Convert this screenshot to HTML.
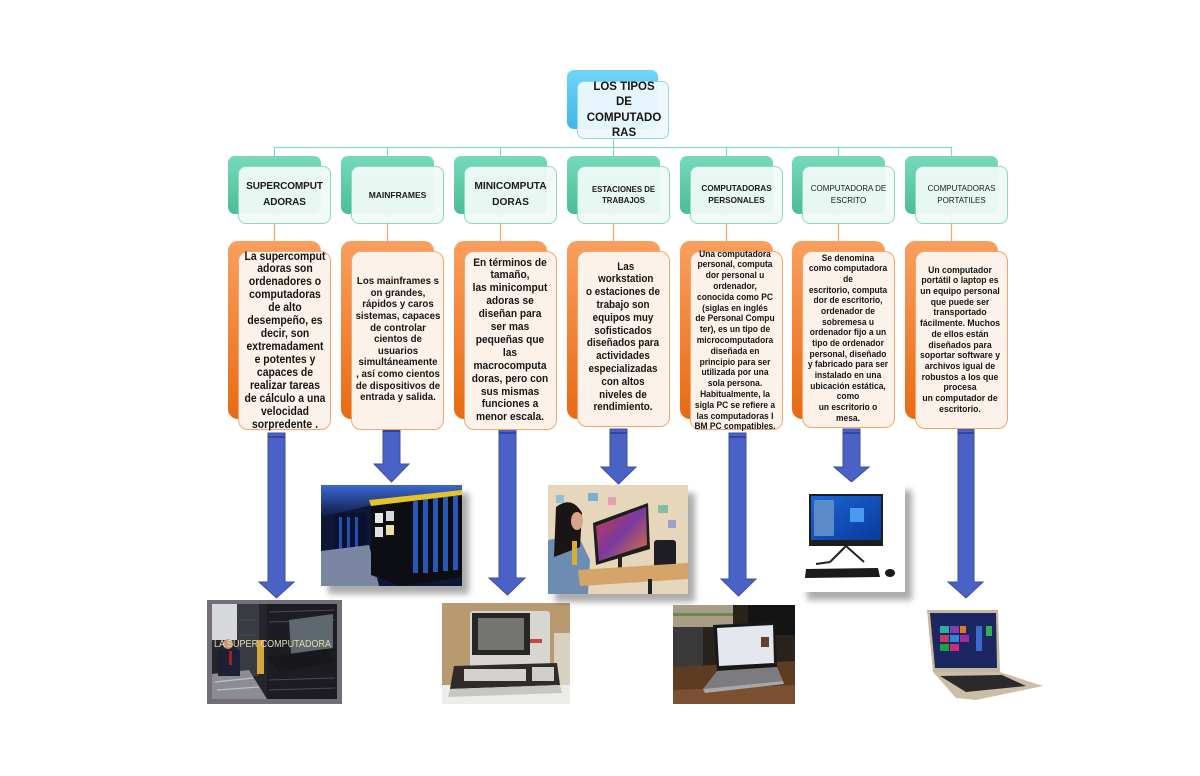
<!DOCTYPE html>
<html><head><meta charset="utf-8">
<style>
body{margin:0;background:#fff;}
#c{position:relative;width:1200px;height:776px;overflow:hidden;background:#fff;font-family:"Liberation Sans",sans-serif;}
.hb{position:absolute;top:156px;width:93px;height:58px;border-radius:7px;background:linear-gradient(#76d9bb,#4bbd98);}
.hf{position:absolute;top:166px;width:91px;height:56px;border:1px solid #8adbc4;border-radius:8px;background:rgba(240,250,247,0.94);display:flex;align-items:center;justify-content:center;text-align:center;color:#1a1a1a;white-space:nowrap;}
.ob{position:absolute;top:241px;width:93px;height:178px;border-radius:10px;background:linear-gradient(#fa9f5f,#e96a12);}
.of{position:absolute;top:251px;width:91px;height:177px;border:1px solid #f5a56c;border-radius:10px;background:#fdf2ea;}
.t{position:absolute;width:120px;text-align:center;font-weight:bold;color:#151515;white-space:nowrap;transform-origin:50% 0;}
.im{position:absolute;overflow:visible;}
.sh{box-shadow:7px 8px 6px rgba(0,0,0,0.33);}
</style></head><body><div id="c">

<!-- connectors -->
<svg class="im" style="left:0;top:0" width="1200" height="776">
<g stroke="#86d9c3" stroke-width="1.2" fill="none">
<line x1="274" y1="147.5" x2="952" y2="147.5"/>
<line x1="274.5" y1="147" x2="274.5" y2="157"/>
<line x1="387.5" y1="147" x2="387.5" y2="157"/>
<line x1="500.5" y1="147" x2="500.5" y2="157"/>
<line x1="613.5" y1="138" x2="613.5" y2="157"/>
<line x1="726.5" y1="147" x2="726.5" y2="157"/>
<line x1="838.5" y1="147" x2="838.5" y2="157"/>
<line x1="951.5" y1="147" x2="951.5" y2="157"/>
</g>
<g stroke="#f5a46b" stroke-width="1.2">
<line x1="274.5" y1="214" x2="274.5" y2="242"/>
<line x1="387.5" y1="214" x2="387.5" y2="242"/>
<line x1="500.5" y1="214" x2="500.5" y2="242"/>
<line x1="613.5" y1="214" x2="613.5" y2="242"/>
<line x1="726.5" y1="214" x2="726.5" y2="242"/>
<line x1="838.5" y1="214" x2="838.5" y2="242"/>
<line x1="951.5" y1="214" x2="951.5" y2="242"/>
</g>
<!-- arrows -->
<g fill="#4a62c6" stroke="#3b4fa6" stroke-width="1">
<polygon points="268,433 285,433 285,582 294,582 276.5,598 259,582 268,582"/>
<polygon points="383,427 400,427 400,464 409,464 391.5,482 374,464 383,464"/>
<polygon points="499,429 516,429 516,578 525,578 507.5,595 489,578 499,578"/>
<polygon points="610,429 627,429 627,467 636,467 618.5,484 601,467 610,467"/>
<polygon points="729,433 746,433 746,579 756,579 738.5,596 721,579 729,579"/>
<polygon points="843,429 860,429 860,467 869,467 851.5,482 834,467 843,467"/>
<polygon points="958,429 974,429 974,582 983,582 966,598 948,582 958,582"/>
</g>
<g fill="#33449a">
<rect x="268" y="436" width="17" height="2"/>
<rect x="383" y="430" width="17" height="2"/>
<rect x="499" y="432" width="17" height="2"/>
<rect x="610" y="432" width="17" height="2"/>
<rect x="729" y="436" width="17" height="2"/>
<rect x="843" y="432" width="17" height="2"/>
<rect x="958" y="432" width="16" height="2"/>
</g>
</svg>

<!-- title -->
<div style="position:absolute;left:567px;top:70px;width:91px;height:59px;border-radius:7px;background:linear-gradient(#70d5f8,#3fb6e8);"></div>
<div style="position:absolute;left:577px;top:81px;width:90px;height:56px;border:1px solid #8fd7f2;border-radius:7px;background:rgba(238,248,253,0.95);"></div>
<div class="t" style="left:564px;top:80px;font-size:11.5px;line-height:15.3px;">LOS TIPOS<br>DE<br>COMPUTADO<br>RAS</div>

<!-- header boxes -->
<div class="hb" style="left:228px"></div><div class="hf" style="left:238px"><span style="font-weight:bold;font-size:10px;line-height:16px;letter-spacing:-0.1px">SUPERCOMPUT<br>ADORAS</span></div>
<div class="hb" style="left:341px"></div><div class="hf" style="left:351px"><span style="font-weight:bold;font-size:8.5px;">MAINFRAMES</span></div>
<div class="hb" style="left:454px"></div><div class="hf" style="left:464px"><span style="font-weight:bold;font-size:10.2px;line-height:16px;">MINICOMPUTA<br>DORAS</span></div>
<div class="hb" style="left:567px"></div><div class="hf" style="left:577px"><span style="font-weight:bold;font-size:7.8px;line-height:11.5px;">ESTACIONES DE<br>TRABAJOS</span></div>
<div class="hb" style="left:680px"></div><div class="hf" style="left:690px"><span style="font-weight:bold;font-size:8.2px;line-height:12.5px;">COMPUTADORAS<br>PERSONALES</span></div>
<div class="hb" style="left:792px"></div><div class="hf" style="left:802px"><span style="font-size:8px;line-height:12.5px;">COMPUTADORA DE<br>ESCRITO</span></div>
<div class="hb" style="left:905px"></div><div class="hf" style="left:915px"><span style="font-size:8px;line-height:12.5px;">COMPUTADORAS<br>PORTATILES</span></div>

<!-- body boxes -->
<div class="ob" style="left:228px"></div><div class="of" style="left:238px"></div>
<div class="ob" style="left:341px"></div><div class="of" style="left:351px"></div>
<div class="ob" style="left:454px"></div><div class="of" style="left:464px"></div>
<div class="ob" style="left:567px"></div><div class="of" style="left:577px;height:174px"></div>
<div class="ob" style="left:680px"></div><div class="of" style="left:690px"></div>
<div class="ob" style="left:792px"></div><div class="of" style="left:802px;height:175px"></div>
<div class="ob" style="left:905px"></div><div class="of" style="left:915px;height:176px"></div>

<div class="t" style="left:225px;top:250.5px;font-size:11.5px;line-height:12.95px;transform:scaleX(0.905);">La supercomput<br>adoras son<br>ordenadores o<br>computadoras<br>de alto<br>desempeño, es<br>decir, son<br>extremadament<br>e potentes y<br>capaces de<br>realizar tareas<br>de cálculo a una<br>velocidad<br>sorpredente .</div>
<div class="t" style="left:338px;top:276.2px;font-size:10.5px;line-height:11.6px;transform:scaleX(0.92);">Los mainframes s<br>on grandes,<br>rápidos y caros<br>sistemas, capaces<br>de controlar<br>cientos de<br>usuarios<br>simultáneamente<br>, así como cientos<br>de dispositivos de<br>entrada y salida.</div>
<div class="t" style="left:450px;top:256.5px;font-size:11.2px;line-height:12.9px;transform:scaleX(0.91);">En términos de<br>tamaño,<br>las minicomput<br>adoras se<br>diseñan para<br>ser mas<br>pequeñas que<br>las<br>macrocomputa<br>doras, pero con<br>sus mismas<br>funciones a<br>menor escala.</div>
<div class="t" style="left:563px;top:260.6px;font-size:11.2px;line-height:12.8px;transform:scaleX(0.88);">&nbsp;&nbsp;Las<br>&nbsp;&nbsp;workstation<br>o estaciones de<br>trabajo son<br>equipos muy<br>sofisticados<br>diseñados para<br>actividades<br>especializadas<br>con altos<br>niveles de<br>rendimiento.</div>
<div class="t" style="left:675px;top:248.6px;font-size:9.4px;line-height:10.8px;transform:scaleX(0.9);">Una computadora<br>personal, computa<br>dor personal u<br>ordenador,<br>conocida como PC<br>(siglas en inglés<br>de Personal Compu<br>ter), es un tipo de<br>microcomputadora<br>diseñada en<br>principio para ser<br>utilizada por una<br>sola persona.<br>Habitualmente, la<br>sigla PC se refiere a<br>las computadoras I<br>BM PC compatibles.</div>
<div class="t" style="left:788px;top:252.7px;font-size:9.4px;line-height:10.67px;transform:scaleX(0.9);">Se denomina<br>como computadora<br>de<br>escritorio, computa<br>dor de escritorio,<br>ordenador de<br>sobremesa u<br>ordenador fijo a un<br>tipo de ordenador<br>personal, diseñado<br>y fabricado para ser<br>instalado en una<br>ubicación estática,<br>como<br>un escritorio o<br>mesa.</div>
<div class="t" style="left:900px;top:264.6px;font-size:9.4px;line-height:10.7px;transform:scaleX(0.92);">Un computador<br>portátil o laptop es<br>un equipo personal<br>que puede ser<br>transportado<br>fácilmente. Muchos<br>de ellos están<br>diseñados para<br>soportar software y<br>archivos igual de<br>robustos a los que<br>procesa<br>un computador de<br>escritorio.</div>

<!-- image 1 supercomputer -->
<svg class="im" style="left:207px;top:600px" width="135" height="104">
<rect width="135" height="104" fill="#736e78"/>
<rect x="5" y="4" width="125" height="95" fill="#25252b"/>
<rect x="5" y="4" width="25" height="36" fill="#d6d8dc"/>
<rect x="30" y="4" width="22" height="72" fill="#3a3a42"/>
<rect x="60" y="4" width="70" height="95" fill="#1c1c22"/>
<g stroke="#4a4a54" stroke-width="1"><line x1="62" y1="12" x2="128" y2="10"/><line x1="62" y1="22" x2="128" y2="20"/><line x1="62" y1="80" x2="128" y2="78"/><line x1="62" y1="90" x2="128" y2="88"/><line x1="32" y1="20" x2="50" y2="20"/><line x1="32" y1="35" x2="50" y2="35"/></g>
<polygon points="5,74 42,70 60,99 5,99" fill="#8c8c94"/>
<g stroke="#c0c0c6" stroke-width="1.2"><line x1="8" y1="82" x2="46" y2="78"/><line x1="10" y1="90" x2="52" y2="87"/></g>
<rect x="11" y="50" width="22" height="26" fill="#1b2035"/>
<circle cx="21" cy="44" r="5" fill="#c89878"/>
<rect x="22" y="51" width="3" height="14" fill="#a02020"/>
<rect x="50" y="40" width="7" height="34" fill="#d4a53a"/>
<polygon points="82,20 126,14 126,48 84,54" fill="#5e666e"/>
<polygon points="60,57 118,49 128,62 72,72" fill="#18181c"/>
<text x="7" y="47" font-family="Liberation Sans" font-size="10" fill="#e2dfae" textLength="117" lengthAdjust="spacingAndGlyphs">LA SUPER COMPUTADORA</text>
</svg>

<!-- image 2 mainframe -->
<svg class="im sh" style="left:321px;top:485px" width="141" height="101">
<defs><linearGradient id="g2" x1="0" y1="0" x2="0" y2="1"><stop offset="0" stop-color="#3b68d0"/><stop offset="1" stop-color="#0e1a44"/></linearGradient></defs>
<rect width="141" height="101" fill="#0e1836"/>
<polygon points="0,0 141,0 141,12 50,20 0,32" fill="url(#g2)"/>
<rect x="14" y="28" width="32" height="40" fill="#0a1230"/>
<g fill="#2450b0"><rect x="18" y="32" width="3" height="32"/><rect x="26" y="32" width="3" height="32"/><rect x="34" y="32" width="3" height="32"/></g>
<polygon points="0,66 48,60 58,101 0,101" fill="#7a86a2"/>
<polygon points="50,18 141,8 141,92 80,101 50,90" fill="#0c0e14"/>
<g fill="#2c5fc8" opacity="0.9"><rect x="92" y="16" width="5" height="72"/><rect x="102" y="14" width="5" height="74"/><rect x="112" y="13" width="5" height="74"/><rect x="122" y="12" width="5" height="74"/><rect x="132" y="11" width="5" height="74"/></g>
<polygon points="48,15 141,5 141,10 50,21" fill="#e4c428"/>
<rect x="54" y="28" width="8" height="10" fill="#e8e8e8"/><rect x="65" y="26" width="8" height="10" fill="#d8d8d8"/><rect x="54" y="42" width="8" height="10" fill="#e0e0e0"/><rect x="65" y="40" width="8" height="10" fill="#e8e0a0"/>
</svg>

<!-- image 3 terminal -->
<svg class="im" style="left:442px;top:603px" width="128" height="101">
<rect width="128" height="101" fill="#b89a70"/>
<rect y="82" width="128" height="19" fill="#ecece8"/>
<rect x="112" y="30" width="16" height="52" fill="#d8d0c0"/>
<rect x="28" y="8" width="80" height="62" rx="3" fill="#d8d6d0"/>
<rect x="30" y="10" width="58" height="42" fill="#262626"/>
<rect x="36" y="15" width="46" height="32" fill="#747470"/>
<rect x="88" y="36" width="12" height="4" fill="#c04848"/>
<polygon points="12,63 115,60 118,82 8,86" fill="#2f2b29"/>
<rect x="22" y="66" width="62" height="12" fill="#d4d2cc"/>
<rect x="90" y="64" width="22" height="14" fill="#d0ceca"/>
<polygon points="8,86 118,82 120,90 6,94" fill="#c8c6c2"/>
</svg>

<!-- image 4 workstation -->
<svg class="im sh" style="left:548px;top:485px" width="140" height="109">
<defs><linearGradient id="g4" x1="0" y1="0" x2="1" y2="1"><stop offset="0" stop-color="#c83a4a"/><stop offset="0.5" stop-color="#7a3aa0"/><stop offset="1" stop-color="#e07a30"/></linearGradient></defs>
<rect width="140" height="109" fill="#e6d6bc"/>
<rect x="40" y="8" width="10" height="8" fill="#7ab0c8"/><rect x="60" y="12" width="8" height="8" fill="#e0a0b0"/><rect x="110" y="20" width="10" height="8" fill="#80c0a0"/><rect x="120" y="35" width="8" height="8" fill="#a0a0d0"/><rect x="8" y="10" width="8" height="8" fill="#90c0d8"/>
<polygon points="0,55 30,50 42,75 40,109 0,109" fill="#6c8cb4"/>
<path d="M8,22 Q24,10 34,28 L32,62 L6,72 Z" fill="#1a1414"/>
<ellipse cx="29" cy="36" rx="6" ry="9" fill="#d8a488"/>
<rect x="24" y="56" width="5" height="24" fill="#d8b030"/>
<polygon points="45,38 100,18 102,64 48,80" fill="#1e1e1e"/>
<polygon points="48,41 98,22 99,60 51,76" fill="url(#g4)"/>
<rect x="70" y="70" width="4" height="16" fill="#222"/>
<rect x="106" y="55" width="22" height="32" rx="3" fill="#1e1e24"/>
<polygon points="30,85 140,78 140,94 32,101" fill="#d4a468"/>
<rect x="100" y="94" width="4" height="15" fill="#222"/>
</svg>

<!-- image 5 laptop -->
<svg class="im" style="left:673px;top:605px" width="122" height="99">
<rect width="122" height="99" fill="#2a221c"/>
<rect width="60" height="22" fill="#a89e88"/>
<rect x="0" y="8" width="60" height="3" fill="#6a8a50"/>
<rect x="75" y="0" width="47" height="30" fill="#141414"/>
<rect x="0" y="22" width="30" height="40" fill="#3a3a3a"/>
<polygon points="0,62 122,56 122,99 0,99" fill="#5c3c22"/>
<polygon points="0,85 122,80 122,99 0,99" fill="#7a5030"/>
<polygon points="40,20 102,17 104,62 44,66" fill="#18181a"/>
<polygon points="44,23 100,20 101,58 46,61" fill="#e4e8ee"/>
<rect x="88" y="32" width="8" height="10" fill="#604030"/>
<polygon points="44,66 104,62 110,76 30,84" fill="#7c7c80"/>
<polygon points="30,84 110,76 111,79 32,88" fill="#a8a8ac"/>
</svg>

<!-- image 6 desktop -->
<svg class="im sh" style="left:800px;top:482px" width="105" height="110">
<defs><linearGradient id="g6" x1="0" y1="0" x2="1" y2="1"><stop offset="0" stop-color="#1a66d6"/><stop offset="1" stop-color="#0a3a9a"/></linearGradient></defs>
<rect width="105" height="110" fill="#fff"/>
<rect x="9" y="12" width="74" height="52" fill="#1e1e1e"/>
<rect x="11" y="14" width="70" height="44" fill="url(#g6)"/>
<rect x="14" y="18" width="20" height="36" fill="#5a8ac8"/>
<rect x="50" y="26" width="14" height="14" fill="#4a9af0"/>
<g stroke="#222" stroke-width="2"><line x1="46" y1="64" x2="30" y2="80"/><line x1="46" y1="64" x2="64" y2="80"/><line x1="30" y1="80" x2="16" y2="82"/></g>
<polygon points="6,87 78,86 80,95 5,96" fill="#1a1a1a"/>
<ellipse cx="90" cy="91" rx="5" ry="4" fill="#1a1a1a"/>
</svg>

<!-- image 7 laptop -->
<svg class="im" style="left:926px;top:608px" width="117" height="92">
<polygon points="1,2 72,2 74,64 7,64" fill="#c6b69c"/>
<polygon points="4,5 70,5 71,60 9,60" fill="#1c2660"/>
<g><rect x="14" y="18" width="9" height="7" fill="#2ab0a0"/><rect x="24" y="18" width="9" height="7" fill="#8a3ab0"/><rect x="34" y="18" width="6" height="7" fill="#e07a20"/><rect x="14" y="27" width="9" height="7" fill="#c03a6a"/><rect x="24" y="27" width="9" height="7" fill="#2a8ad0"/><rect x="34" y="27" width="9" height="7" fill="#a02aa0"/><rect x="14" y="36" width="9" height="7" fill="#20a040"/><rect x="24" y="36" width="9" height="7" fill="#d02a80"/><rect x="50" y="18" width="6" height="25" fill="#3a6ac8"/><rect x="60" y="18" width="6" height="10" fill="#30b050"/></g>
<polygon points="7,64 74,64 117,78 50,92 30,90" fill="#cbbda6"/>
<polygon points="14,68 76,67 100,78 40,84" fill="#2a2a2c"/>
</svg>

</div></body></html>
